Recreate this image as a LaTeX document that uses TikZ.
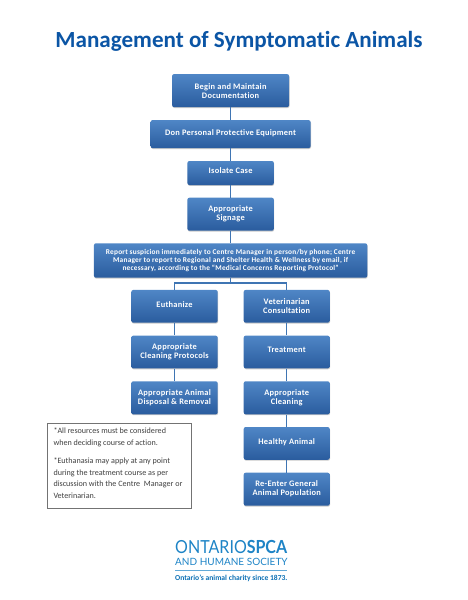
\documentclass[tikz,border=0pt]{standalone}
\usepackage{fontspec}
\setmainfont{Carlito}[Ligatures=NoCommon]
\newfontfamily\boxfont{Carlito}[LetterSpace=3,Ligatures=NoCommon]
\newfontfamily\logofont{Lato}
\usetikzlibrary{shadows,calc}
\definecolor{boxtop}{HTML}{4F86C6}
\definecolor{boxbot}{HTML}{2A5C9E}
\definecolor{linkblue}{HTML}{3F75B3}
\definecolor{titleblue}{HTML}{0B55A5}
\definecolor{logoblue}{HTML}{1E84C6}
\definecolor{logodark}{HTML}{0B6FB4}
\tikzset{
  flowbox/.style={rectangle,rounded corners=2pt,top color=boxtop,bottom color=boxbot,
    text=white,align=center,inner sep=0pt,
    font=\boxfont\bfseries\fontsize{8.4}{9.0}\selectfont,
    drop shadow={shadow xshift=0.4pt,shadow yshift=-0.9pt,opacity=0.35,fill=black!60}},
  oneline/.style={flowbox,text depth=4pt},
  smallflow/.style={flowbox,font=\boxfont\bfseries\fontsize{7.35}{7.6}\selectfont},
  link/.style={draw=linkblue,line width=1.1pt},
  notebox/.style={rectangle,draw=black!55,line width=0.8pt,fill=white,inner sep=0pt,
    drop shadow={shadow xshift=0.5pt,shadow yshift=-0.5pt,opacity=0.3}},
  notetext/.style={anchor=north west,align=left,inner sep=0pt,text=black!75,
    font=\fontsize{8.1}{11.6}\selectfont},
  logotext/.style={inner sep=0pt,text=logoblue}
}
\begin{document}
\begin{tikzpicture}[x=1pt,y=-1pt]
\useasboundingbox (0,0) rectangle (467,600);
\node[anchor=base,inner sep=0pt,text=titleblue,font=\bfseries\fontsize{23.1}{26}\selectfont] (title) at (239,47) {Management of Symptomatic Animals};
\node[flowbox,minimum width=117pt,minimum height=33pt] (begin) at (230.6,90.6) {Begin and Maintain\\Documentation};
\node[oneline,minimum width=160pt,minimum height=28pt] (ppe) at (230.6,134.1) {Don Personal Protective Equipment};
\node[oneline,minimum width=86.4pt,minimum height=24pt] (iso) at (230.6,173) {Isolate Case};
\node[flowbox,minimum width=86.4pt,minimum height=33pt] (sign) at (230.6,214.2) {Appropriate\\Signage};
\node[smallflow,minimum width=273.3pt,minimum height=34.4pt] (report) at (230.6,260.5) {Report suspicion immediately to Centre Manager in person/by phone; Centre\\Manager to report to Regional and Shelter Health \& Wellness by email, if\\necessary, according to the “Medical Concerns Reporting Protocol”};
\node[oneline,minimum width=86.4pt,minimum height=32.7pt] (euth) at (174.5,306.3) {Euthanize};
\node[flowbox,minimum width=86.4pt,minimum height=32.7pt] (clean) at (174.5,352) {Appropriate\\Cleaning Protocols};
\node[flowbox,minimum width=86.4pt,minimum height=33pt] (disp) at (174.5,397.8) {Appropriate Animal\\Disposal \& Removal};
\node[flowbox,minimum width=86pt,minimum height=32.7pt] (vet) at (286.7,306.3) {Veterinarian\\Consultation};
\node[oneline,minimum width=86pt,minimum height=32.7pt] (treat) at (286.7,352) {Treatment};
\node[flowbox,minimum width=86pt,minimum height=33pt] (rclean) at (286.7,397.8) {Appropriate\\Cleaning};
\node[oneline,minimum width=86pt,minimum height=32.7pt] (healthy) at (286.7,443.4) {Healthy Animal};
\node[flowbox,minimum width=86pt,minimum height=33pt] (reenter) at (286.7,489.2) {Re-Enter General\\Animal Population};
\coordinate (bus) at (230.6,283);
\draw[link] (begin) -- (ppe);
\draw[link] (ppe) -- (iso);
\draw[link] (iso) -- (sign);
\draw[link] (sign) -- (report);
\draw[link] (report) -- (bus);
\draw[link] (bus) -| (euth);
\draw[link] (bus) -| (vet);
\draw[link] (euth) -- (clean);
\draw[link] (clean) -- (disp);
\draw[link] (vet) -- (treat);
\draw[link] (treat) -- (rclean);
\draw[link] (rclean) -- (healthy);
\draw[link] (healthy) -- (reenter);
\node[notebox,minimum width=144pt,minimum height=85.3pt] (note) at (119.3,465.7) {};
\node[notetext] (note1) at (53.3,427.6) {*All resources must be considered\\when deciding course of action.};
\node[notetext] (note2) at (53.3,457.6) {*Euthanasia may apply at any point\\during the treatment course as per\\discussion with the Centre\ \ Manager or\\Veterinarian.};
\node[logotext,anchor=west,font=\logofont\fontsize{18}{18}\selectfont] (logo1) at (175,547) {\scalebox{0.89}[1]{ONTARIO\textbf{SPCA}}};
\node[logotext,anchor=west,font=\logofont\fontsize{10}{10}\selectfont] (logo2) at (175,561.8) {AND HUMANE SOCIETY};
\coordinate (ruleL) at (175,570.7);
\coordinate (ruleR) at (287,570.7);
\draw[draw=logoblue!70,line width=0.8pt] (ruleL) -- (ruleR);
\node[logotext,text=logodark,anchor=west,font=\bfseries\fontsize{7.6}{8}\selectfont] (logo3) at (175,578.2) {Ontario's animal charity since 1873.};
\end{tikzpicture}
\end{document}
